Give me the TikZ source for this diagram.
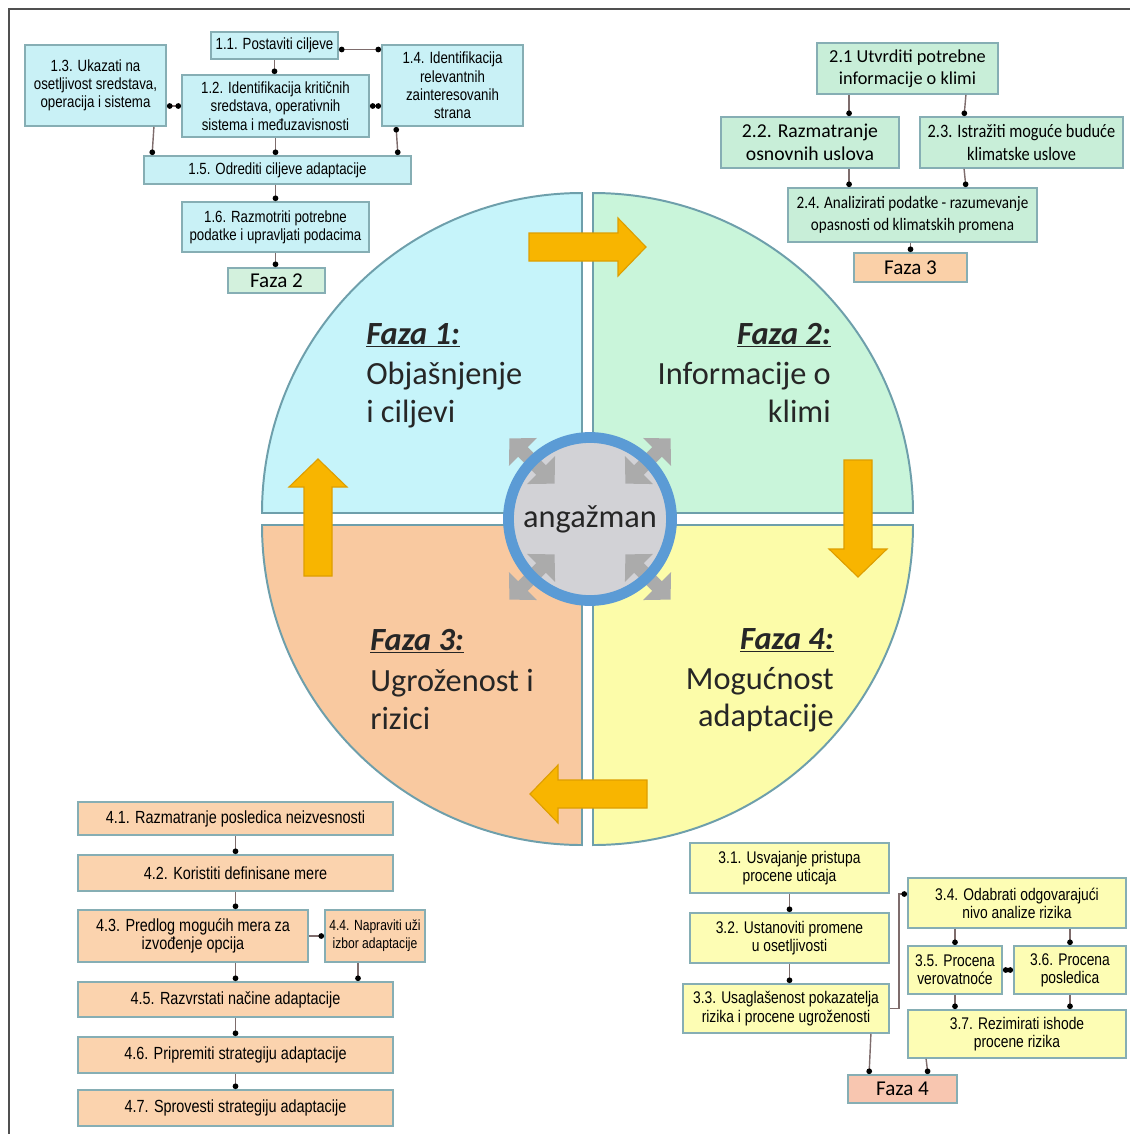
\documentclass[tikz,border=0pt]{standalone}
\usepackage{fontspec}
\setmainfont{Carlito}
\newfontfamily\narrowfont[FakeStretch=0.82]{Liberation Sans}
\newfontfamily\calnarrow[FakeStretch=0.86]{Carlito}
\usetikzlibrary{arrows.meta,calc}

\definecolor{txt}{HTML}{262626}
\definecolor{frame}{HTML}{505050}
\definecolor{boxline}{HTML}{86AEB4}
\definecolor{linkc}{HTML}{7E6C6C}
\definecolor{quadline}{HTML}{6E9FAB}
\definecolor{fillA}{HTML}{C9F1F6}
\definecolor{fillB}{HTML}{C8EED8}
\definecolor{fillC}{HTML}{FDFDB4}
\definecolor{fillD}{HTML}{FBD3AE}
\definecolor{quadA}{HTML}{C6F4FA}
\definecolor{quadB}{HTML}{C9F5DA}
\definecolor{quadC}{HTML}{F9C9A0}
\definecolor{quadD}{HTML}{FCFCA9}
\definecolor{gotoA}{HTML}{D3F1DD}
\definecolor{gotoB}{HTML}{FAD0A8}
\definecolor{gotoC}{HTML}{F8C6B0}
\definecolor{arrowfill}{HTML}{F8B500}
\definecolor{arrowline}{HTML}{DE9E00}
\definecolor{enggray}{HTML}{ABABAB}
\definecolor{engfill}{HTML}{D2D2D6}
\definecolor{ringblue}{HTML}{5B9BD5}

\begin{document}
\begin{tikzpicture}[x=0.025cm, y=-0.025cm,
	box/.style={draw=boxline, line width=1.3pt, inner sep=1pt, align=center, text=black},
	wh/.style 2 args={minimum width=#1*0.025cm, minimum height=#2*0.025cm},
	phA/.style={box, fill=fillA, font=\narrowfont\fontsize{11.5}{13}\selectfont},
	phB/.style={box, fill=fillB, font=\fontsize{13}{15.4}\selectfont},
	phC/.style={box, fill=fillC, font=\narrowfont\fontsize{12}{13}\selectfont},
	phD/.style={box, fill=fillD, font=\narrowfont\fontsize{12.5}{13}\selectfont},
	goto/.style={box, font=\fontsize{15}{17}\selectfont},
	link/.style={draw=linkc, line width=1pt, -{Circle[length=4pt, color=black]}},
	link2/.style={draw=linkc, line width=1pt, {Circle[length=4pt, color=black]}-{Circle[length=4pt, color=black]}},
	quad/.style={draw=quadline, line width=1.4pt},
	bigarrow/.style={fill=arrowfill, draw=arrowline, line width=0.8pt},
	engarrow/.style={draw=enggray, line width=0.34cm, {Triangle[length=0.48cm, width=0.96cm]}-{Triangle[length=0.48cm, width=0.96cm]}},
	phtitle/.style={inner sep=0pt, text=txt, font=\fontsize{23}{27}\selectfont\bfseries\itshape},
	phtext/.style={inner sep=0pt, text=txt, font=\fontsize{23}{27}\selectfont}]
	\useasboundingbox (0,0) rectangle (1130,1134);
	\fill[white] (0,0) rectangle (1130,1134);
	\draw[frame, line width=1.4pt] (9,1134) -- (9,9) -- (1130,9);

	% quadrants of the cycle
	\draw[quad, fill=quadA] (582,513) -- ++(-320,0) arc[start angle=180, end angle=270, radius=320] -- cycle;
	\draw[quad, fill=quadB] (593,513) -- ++(320,0) arc[start angle=0, end angle=-90, radius=320] -- cycle;
	\draw[quad, fill=quadC] (582,525) -- ++(-320,0) arc[start angle=180, end angle=90, radius=320] -- cycle;
	\draw[quad, fill=quadD] (593,525) -- ++(320,0) arc[start angle=0, end angle=90, radius=320] -- cycle;

	% orange arrows between phases
	\foreach \ax/\ay/\rot in {529/247/0, 858/460/-90, 647/794/180, 318/576/90}
		\draw[bigarrow, shift={(\ax,\ay)}, rotate=\rot] (0,-14) -- (89,-14) -- (89,-29) -- (117,0) -- (89,29) -- (89,14) -- (0,14) -- cycle;

	% phase titles
	\node[phtitle, anchor=base west] (t1a) at (366,344) {\underline{Faza 1:}};
	\node[phtext, anchor=base west] (t1b) at (366,384) {Objašnjenje};
	\node[phtext, anchor=base west] (t1c) at (366,422) {i ciljevi};
	\node[phtitle, anchor=base east] (t2a) at (831,344) {\underline{Faza 2:}};
	\node[phtext, anchor=base east] (t2b) at (831,384) {Informacije o};
	\node[phtext, anchor=base east] (t2c) at (831,422) {klimi};
	\node[phtitle, anchor=base west] (t3a) at (370,650) {\underline{Faza 3:}};
	\node[phtext, anchor=base west] (t3b) at (370,691) {Ugroženost i};
	\node[phtext, anchor=base west] (t3c) at (370,729) {rizici};
	\node[phtitle, anchor=base east] (t4a) at (834,649) {\underline{Faza 4:}};
	\node[phtext, anchor=base east] (t4b) at (834,689) {Mogućnost};
	\node[phtext, anchor=base east] (t4c) at (834,726) {adaptacije};

	% engagement in the middle
	\coordinate (ec) at (590,519);
	\fill[engfill] (ec) circle[radius=80];
	\foreach \a in {45,135,225,315}
		\draw[engarrow] ($(ec)+(\a:50)$) -- ($(ec)+(\a:114)$);
	\node[circle, draw=ringblue, line width=0.27cm, minimum size=4.075cm, inner sep=0pt, text=txt, font=\fontsize{23}{27}\selectfont] (eng) at (ec) {angažman};

	% phase 1 steps
	\node[phA, wh={127}{27}] (p11) at (274.5,45.5) {1.1. Postaviti ciljeve};
	\node[phA, wh={141}{81}] (p13) at (95.5,85.5) {1.3. Ukazati na\\osetljivost sredstava,\\operacija i sistema};
	\node[phA, wh={187}{62}] (p12) at (275.5,106) {1.2. Identifikacija kritičnih\\sredstava, operativnih\\sistema i međuzavisnosti};
	\node[phA, wh={141}{81}] (p14) at (452.5,85.5) {1.4. Identifikacija\\relevantnih\\zainteresovanih\\strana};
	\node[phA, wh={267}{28}] (p15) at (277.5,170) {1.5. Odrediti ciljeve adaptacije};
	\node[phA, wh={187}{50}] (p16) at (275.5,227) {1.6. Razmotriti potrebne\\podatke i upravljati podacima};
	\node[goto, fill=gotoA, wh={97}{25}] (f2) at (276.5,280.5) {Faza 2};
	\draw[link] (p11) -- (p11 |- p12.north);
	\draw[link2] ($(p11.east)+(0,4)$) -- ($(p11.east -| p14.west)+(0,4)$);
	\draw[link2] (p13.east |- p12.west) -- (p12.west);
	\draw[link2] (p12.east) -- (p12.east -| p14.west);
	\draw[link] ($(p13.south east)+(-13,0)$) -- ($(p15.north west)+(9,0)$);
	\draw[link] (p12) -- (p12 |- p15.north);
	\draw[link2] ($(p14.south west)+(15,0)$) -- ($(p15.north east)+(-14,0)$);
	\draw[link] (p16 |- p15.south) -- (p16);
	\draw[link] (p16) -- (p16 |- f2.north);

	% phase 2 steps
	\node[phB, wh={181}{51}] (p21) at (907.5,68.5) {2.1 Utvrditi potrebne\\informacije o klimi};
	\node[phB, wh={178}{51}, font=\fontsize{14}{16.6}\selectfont] (p22) at (810,142.5) {2.2. Razmatranje\\osnovnih uslova};
	\node[phB, wh={203}{51}, font=\calnarrow\fontsize{13.5}{16.6}\selectfont] (p23) at (1021.5,142.5) {2.3. Istražiti moguće buduće\\klimatske uslove};
	\node[phB, wh={249}{54}, font=\calnarrow\fontsize{12.5}{15.4}\selectfont] (p24) at (912.5,215) {2.4. Analizirati podatke - razumevanje\\opasnosti od klimatskih promena};
	\node[goto, fill=gotoB, wh={113}{29}] (f3) at (910.5,267.5) {Faza 3};
	\draw[link] ($(p21.south west)+(33,0)$) -- ($(p22.north west)+(129,0)$);
	\draw[link] ($(p21.south east)+(-33,0)$) -- ($(p23.north west)+(45,0)$);
	\draw[link] ($(p22.south west)+(129,0)$) -- ($(p24.north west)+(62,0)$);
	\draw[link] ($(p23.south west)+(45,0)$) -- ($(p24.north east)+(-72,0)$);
	\draw[link] (f3 |- p24.south) -- (f3);

	% phase 3 steps
	\node[phC, wh={199}{50}] (p31) at (789.5,868) {3.1. Usvajanje pristupa\\procene uticaja};
	\node[phC, wh={199}{50}] (p32) at (789.5,938) {3.2. Ustanoviti promene\\u osetljivosti};
	\node[phC, wh={206}{49}] (p33) at (786,1008.5) {3.3. Usaglašenost pokazatelja\\rizika i procene ugroženosti};
	\node[phC, wh={218}{50}] (p34) at (1017,903) {3.4. Odabrati odgovarajući\\nivo analize rizika};
	\node[phC, wh={94}{48}] (p35) at (955,970) {3.5. Procena\\verovatnoće};
	\node[phC, wh={112}{48}] (p36) at (1070,970) {3.6. Procena\\posledica};
	\node[phC, wh={218}{48}] (p37) at (1017,1034) {3.7. Rezimirati ishode\\procene rizika};
	\node[goto, fill=gotoC, wh={109}{28}] (f4) at (902.5,1089) {Faza 4};
	\draw[link] (p31) -- (p31 |- p32.north);
	\draw[link] (p32) -- (p32 |- p33.north);
	\draw[link] (p33.east) -- ++(9,0) |- ($(p34.west)+(0,-9)$);
	\draw[link] (p35 |- p34.south) -- (p35);
	\draw[link] (p36 |- p34.south) -- (p36);
	\draw[link2] (p35) -- (p36);
	\draw[link] (p35) -- (p35 |- p37.north);
	\draw[link] (p36) -- (p36 |- p37.north);
	\draw[link] ($(p33.south east)+(-19,0)$) -- ($(f4.north west)+(22,0)$);
	\draw[link] ($(p37.south west)+(19,0)$) -- ($(f4.north east)+(-30,0)$);

	% phase 4 steps
	\node[phD, wh={315}{33}] (p41) at (235.5,818.5) {4.1. Razmatranje posledica neizvesnosti};
	\node[phD, wh={315}{36}] (p42) at (235.5,873) {4.2. Koristiti definisane mere};
	\node[phD, wh={230}{52}] (p43) at (193,936) {4.3. Predlog mogućih mera za\\izvođenje opcija};
	\node[phD, wh={100}{52}, font=\narrowfont\fontsize{10.5}{13}\selectfont] (p44) at (375,936) {4.4. Napraviti uži\\izbor adaptacije};
	\node[phD, wh={315}{35}] (p45) at (235.5,999.5) {4.5. Razvrstati načine adaptacije};
	\node[phD, wh={315}{36}] (p46) at (235.5,1055) {4.6. Pripremiti strategiju adaptacije};
	\node[phD, wh={315}{36}] (p47) at (235.5,1108) {4.7. Sprovesti strategiju adaptacije};
	\draw[link] (p41) -- (p41 |- p42.north);
	\draw[link] (p42) -- (p42 |- p43.north);
	\draw[link] (p43) -- (p44);
	\draw[link] (p43.south -| p45) -- (p45);
	\draw[link] ($(p44.south)+(-17,0)$) -- ($(p44.south |- p45.north)+(-17,0)$);
	\draw[link] (p45) -- (p45 |- p46.north);
	\draw[link] (p46) -- (p46 |- p47.north);
\end{tikzpicture}
\end{document}
